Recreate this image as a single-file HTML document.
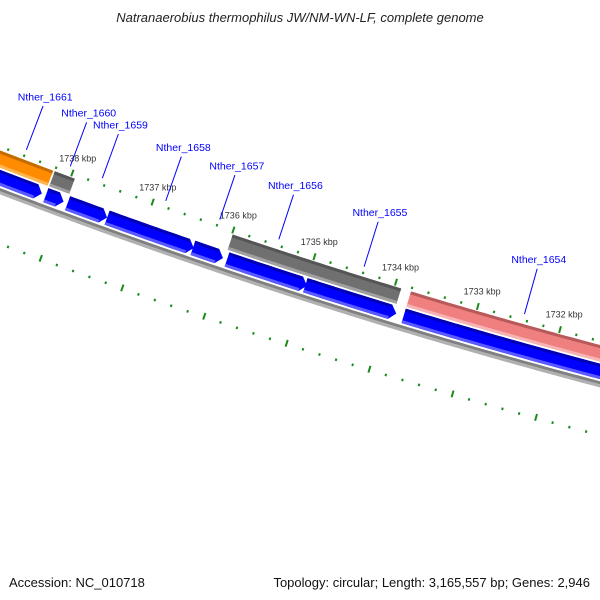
<!DOCTYPE html>
<html><head><meta charset="utf-8"><style>
html,body{margin:0;padding:0;background:#fff;}
svg{display:block;font-family:"Liberation Sans",sans-serif;}
</style></head><body>
<svg id="map" width="600" height="600" viewBox="0 0 600 600" xmlns="http://www.w3.org/2000/svg">
<rect width="600" height="600" fill="#fff"/>
<text x="300" y="22" text-anchor="middle" font-size="13" font-style="italic" fill="#222">Natranaerobius thermophilus JW/NM-WN-LF, complete genome</text>
<g id="plot"></g>
<text x="9" y="587" font-size="13" fill="#111">Accession: NC_010718</text>
<text x="590" y="587" text-anchor="end" font-size="13" fill="#111">Topology: circular; Length: 3,165,557 bp; Genes: 2,946</text>
</svg>
<script>
// ---- data ----
const geneStarts = [1739.6, 1738.20, 1735.99, 1733.80, 1739.6, 1738.20, 1737.93, 1737.44, 1736.38, 1735.96, 1735.00, 1733.80];
const geneEnds   = [1738.22, 1737.95, 1733.92, 1730.5, 1738.25, 1737.98, 1737.44, 1736.37, 1736.01, 1734.98, 1733.89, 1730.5];
const geneStrands = [1, 1, 1, 1, -1, -1, -1, -1, -1, -1, -1, -1];
const geneColors = ["orange", "gray", "gray", "pink", "blue", "blue", "blue", "blue", "blue", "blue", "blue", "blue"];
const labelNames = ["Nther_1661", "Nther_1660", "Nther_1659", "Nther_1658", "Nther_1657", "Nther_1656", "Nther_1655", "Nther_1654"];
const labelPositions = [1738.60, 1738.05, 1737.65, 1736.86, 1736.19, 1735.46, 1734.41, 1732.45];
const majorTicks = [1738, 1737, 1736, 1735, 1734, 1733, 1732];
const tickLabels = ["1738 kbp", "1737 kbp", "1736 kbp", "1735 kbp", "1734 kbp", "1733 kbp", "1732 kbp"];

// ---- axis (polar) ----
const CX = 2095, CY = -5289, R0 = 5825;
function ang(p){ return (107.8 + (p - 1735) * 0.84) * Math.PI / 180; }
function pt(p, d){ const a = ang(p), r = R0 + d; return [CX + r * Math.cos(a), CY + r * Math.sin(a)]; }
const palette = {
  orange: ["#ff8c00", "#c56c00", "#ffb450"],
  gray:   ["#707070", "#555555", "#a0a0a0"],
  pink:   ["#f08080", "#b85a5a", "#f8b4b4"],
  blue:   ["#0000ff", "#0000b4", "#5a5aff"]
};
const NS = "http://www.w3.org/2000/svg";
const plot = document.getElementById("plot");
function mk(tag, attrs){ const e = document.createElementNS(NS, tag); for (const k in attrs) e.setAttribute(k, attrs[k]); plot.appendChild(e); return e; }
function arcPts(p1, p2, d){ const out = []; const n = Math.max(2, Math.ceil(Math.abs(p1 - p2) / 0.05)); for (let i = 0; i <= n; i++){ out.push(pt(p1 + (p2 - p1) * i / n, d)); } return out; }
function poly(pts){ return pts.map(q => q[0].toFixed(2) + "," + q[1].toFixed(2)).join(" "); }
function band(p1, p2, d1, d2){ return arcPts(p1, p2, d1).concat(arcPts(p2, p1, d2)); }

// backbone
let bb = mk("polygon", {points: poly(band(1740, 1730, 39, 42)), fill: "#808080"});


let bb2 = mk("polygon", {points: poly(band(1740, 1730, 42, 45)), fill: "#b0b0b0"});



// ticks
function tickRow(d0, withLabels, rowName){
  for (let k = 0; k <= 50; k++){
    const p = 1740 - k * 0.2;
    const major = Math.abs(p - Math.round(p)) < 1e-6;
    const a = pt(p, d0 + (major ? -4 : -1)), b = pt(p, d0 + (major ? 3 : 1.5));
    const t = mk("line", {x1: a[0], y1: a[1], x2: b[0], y2: b[1], stroke: "#1a8a1a", "stroke-width": 2});
    
    
  }
  if (withLabels){
    majorTicks.forEach((p, i) => {
      const c = pt(p, d0 - 16);
      const tx = mk("text", {x: c[0], y: c[1] + 3, "text-anchor": "middle", "font-size": 9, fill: "#333"});
      tx.textContent = tickLabels[i];
      
      
    });
  }
}
tickRow(0, true, 'outer-ruler');
tickRow(91, false, 'inner-ruler');

// genes
geneStarts.forEach((s, i) => {
  const e = geneEnds[i], col = palette[geneColors[i]];
  const d1 = geneStrands[i] > 0 ? 4 : 22, d2 = geneStrands[i] > 0 ? 20 : 37;
  let pts;
  const arrow = geneStrands[i] < 0 && e > 1731;
  const head = 0.075;
  if (arrow){
    const hb = Math.min(s, e + head);
    pts = arcPts(s, hb, d1).concat([pt(e, (d1 + d2) / 2)]).concat(arcPts(hb, s, d2));
  } else {
    pts = band(s, e, d1, d2);
  }
  const g = mk("polygon", {points: poly(pts), fill: col[0]});
  
  
  const bodyEnd = arrow ? Math.min(s, e + head) : e;
  const top = mk("polygon", {points: poly(band(s, bodyEnd, d1, d1 + 3)), fill: col[1]});
  
  
  const bot = mk("polygon", {points: poly(band(s, bodyEnd, d2 - 3, d2)), fill: col[2]});
  
  
});

// gene labels
labelNames.forEach((name, i) => {
  const p = labelPositions[i];
  const a = pt(p, -6), b = pt(p, -53), c = pt(p, -59);
  const l = mk("line", {x1: a[0], y1: a[1], x2: b[0], y2: b[1], stroke: "#0000ff", "stroke-width": 1});
  
  
  const t = mk("text", {x: c[0], y: c[1], "text-anchor": "middle", "font-size": 10.5, fill: "#0000ff"});
  t.textContent = name;
  
  
});
</script>
</body></html>
